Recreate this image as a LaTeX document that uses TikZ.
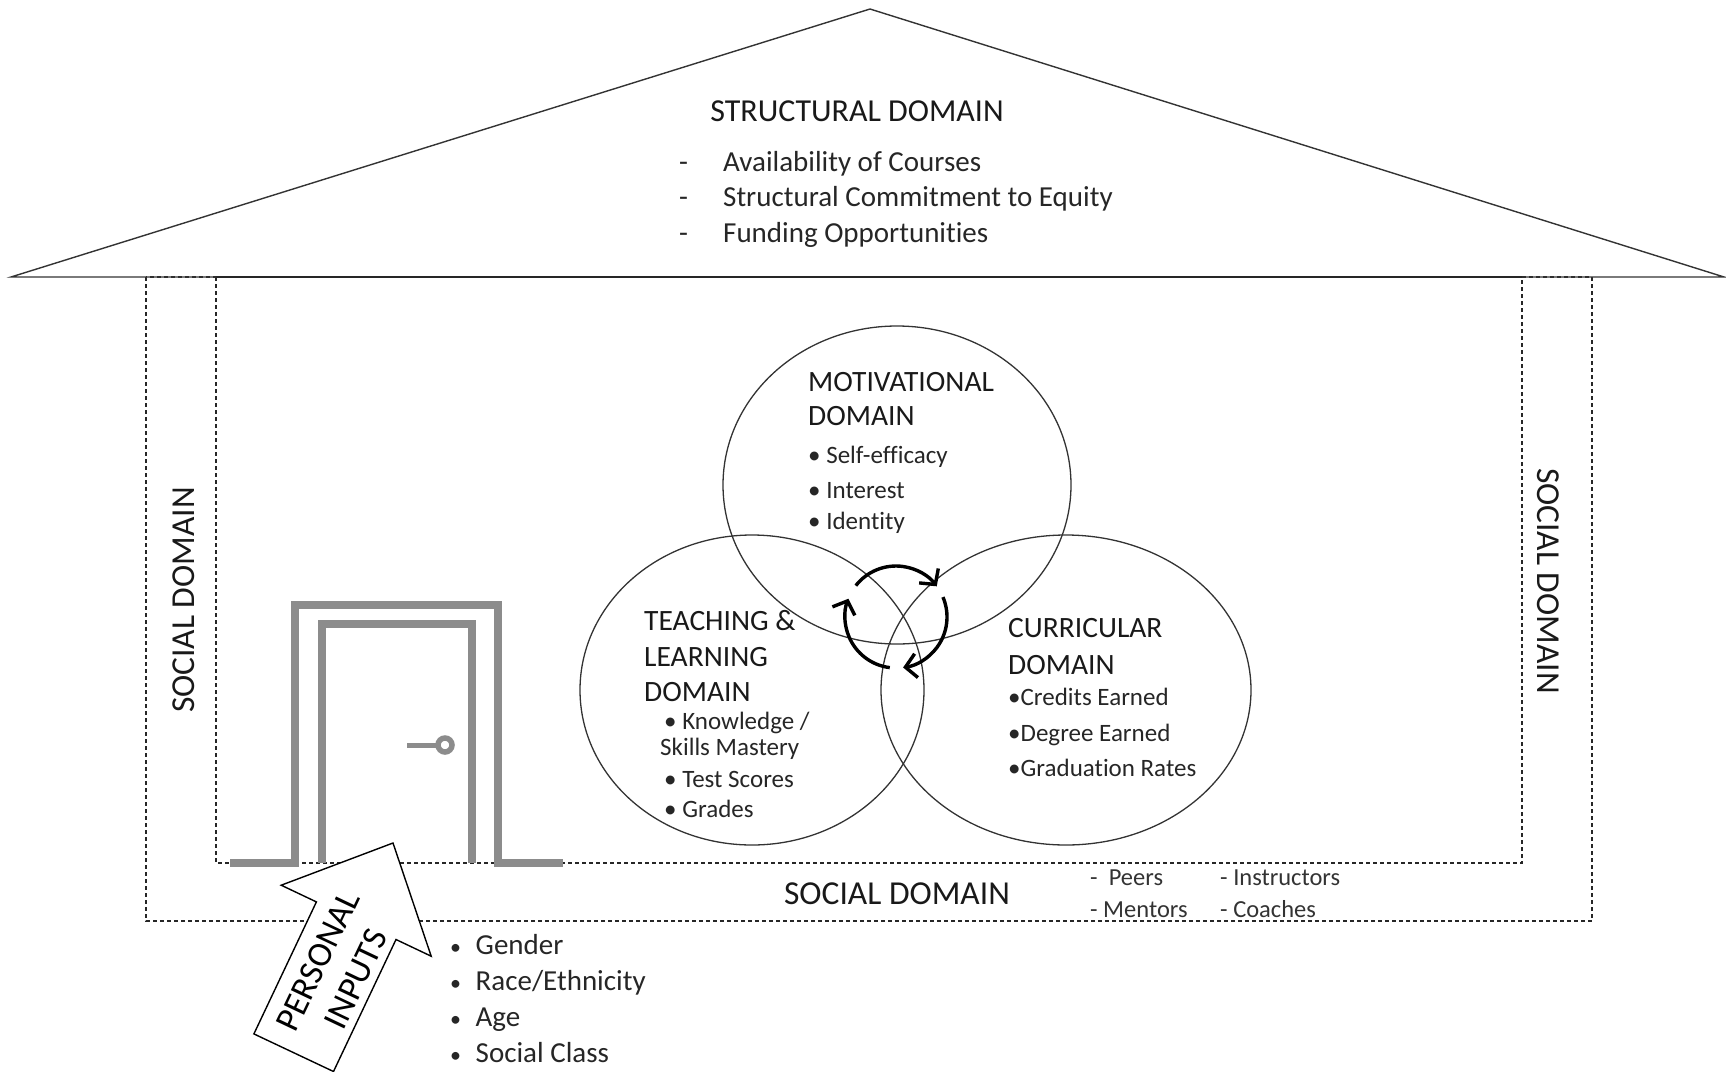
\documentclass[tikz,border=0pt]{standalone}
\usepackage{fontspec}
\setmainfont{Carlito}[Ligatures=NoCommon]
\usetikzlibrary{arrows.meta}

\definecolor{doorgray}{HTML}{8C8C8C}

\begin{document}
\begin{tikzpicture}[x=1pt, y=-1pt,
  wall/.style={dash pattern=on 4pt off 3pt, line width=1.2pt, draw=black!85},
  roofline/.style={line width=1.4pt, draw=black!80},
  ring/.style={line width=1.3pt, draw=black!80},
  doorline/.style={line width=7.5pt, draw=doorgray},
  cyc/.style={line width=3.4pt, -{Straight Barb[length=11pt, width=24pt]}},
  head/.style={font=\fontsize{32}{38}\selectfont, inner sep=0pt, text=black!90},
  social/.style={font=\fontsize{33.5}{40}\selectfont, inner sep=0pt, text=black!90},
  domtitle/.style={font=\fontsize{29.5}{35}\selectfont, inner sep=0pt, anchor=base west, text=black!90},
  item/.style={font=\fontsize{29}{35}\selectfont, inner sep=0pt, anchor=base west, text=black!85},
  circitem/.style={font=\fontsize{25}{30}\selectfont, inner sep=0pt, anchor=base west, text=black!85},
  small/.style={font=\fontsize{24.5}{29}\selectfont, inner sep=0pt, anchor=base west, text=black!80}]

\useasboundingbox (0,0) rectangle (1726,1071);

% social domain walls
\draw[wall] (146,277) rectangle (1592,921);
\draw[wall] (216,277) rectangle (1522,863);

% roof
\coordinate (eaveL) at (11,277);
\coordinate (apex) at (870,9);
\coordinate (eaveR) at (1724,277);
\draw[roofline] (216,277) -- (eaveL) -- (apex) -- (eaveR) -- (1522,277);

\node[head, anchor=base] (struct) at (857,121) {STRUCTURAL DOMAIN};
\foreach \txt [count=\i] in {Availability of Courses, Structural Commitment to Equity, Funding Opportunities}{
  \node[item] (sdash\i) at (679,135.5+35.5*\i) {-};
  \node[item] (s\i) at (723,135.5+35.5*\i) {\txt};
}

% the three domains
\draw[ring] (897,485) ellipse[x radius=174, y radius=159];
\draw[ring] (752,690) ellipse[x radius=172, y radius=155];
\draw[ring] (1066,690) ellipse[x radius=185, y radius=155];

\node[domtitle] (mot1) at (808,391) {MOTIVATIONAL};
\node[domtitle] (mot2) at (808,425) {DOMAIN};
\node[circitem] (m1) at (808,463) {\textbullet\ Self-efficacy};
\node[circitem] (m2) at (808,498) {\textbullet\ Interest};
\node[circitem] (m3) at (808,529) {\textbullet\ Identity};

\node[domtitle] (tl1) at (644,630) {TEACHING \&};
\node[domtitle] (tl2) at (644,666) {LEARNING};
\node[domtitle] (tl3) at (644,701) {DOMAIN};
\node[circitem] (t1) at (664,729) {\textbullet\ Knowledge /};
\node[circitem] (t1b) at (660,755) {Skills Mastery};
\node[circitem] (t2) at (664,787) {\textbullet\ Test Scores};
\node[circitem] (t3) at (664,817) {\textbullet\ Grades};

\node[domtitle] (cur1) at (1008,637) {CURRICULAR};
\node[domtitle] (cur2) at (1008,674) {DOMAIN};
\node[circitem] (c1) at (1008,705) {\textbullet Credits Earned};
\node[circitem] (c2) at (1008,741) {\textbullet Degree Earned};
\node[circitem] (c3) at (1008,776) {\textbullet Graduation Rates};

% cycle in the middle
\coordinate (mid) at (896,617);
\draw[cyc] (mid) ++(97:51) arc[start angle=97, end angle=201, radius=51];
\draw[cyc] (mid) ++(218:51) arc[start angle=218, end angle=323, radius=51];
\draw[cyc] (mid) ++(337:51) arc[start angle=337, end angle=442, radius=51];

% social domain labels
\node[social, rotate=90] (socL) at (184,600) {SOCIAL DOMAIN};
\node[social, rotate=-90] (socR) at (1548,581) {SOCIAL DOMAIN};
\node[social, anchor=base] (socB) at (897,904) {SOCIAL DOMAIN};
\node[small] (p1) at (1090,885) {-\ \ Peers};
\node[small] (p2) at (1090,917) {- Mentors};
\node[small] (p3) at (1220,885) {- Instructors};
\node[small] (p4) at (1220,917) {- Coaches};

% door
\draw[doorline] (230,863) -- (295,863) -- (295,605) -- (498,605) -- (498,863) -- (563,863);
\draw[doorline] (322,863) -- (322,624) -- (472,624) -- (472,863);
\draw[doorline, line width=5pt] (407,745) -- (438,745);
\draw[doorline, line width=5.5pt] (445,745) circle[radius=7];

% personal inputs
\draw[line width=1.4pt, fill=white] (393,843) -- (431.2,956.2) -- (396,939.5) -- (333.5,1071.5)
  -- (253.9,1033.9) -- (316.4,901.9) -- (281.2,885.2) -- cycle;
\node[rotate=64.6, align=center, inner sep=0pt, font=\fontsize{35}{42}\selectfont] (pin) at (337,970) {PERSONAL\\INPUTS};

\foreach \txt [count=\i] in {Gender, Race/Ethnicity, Age, Social Class}{
  \node[item, font=\fontsize{22}{26}\selectfont] (bul\i) at (450,918+36*\i) {\textbullet};
  \node[item] (pi\i) at (475.5,918+36*\i) {\txt};
}

\end{tikzpicture}
\end{document}
